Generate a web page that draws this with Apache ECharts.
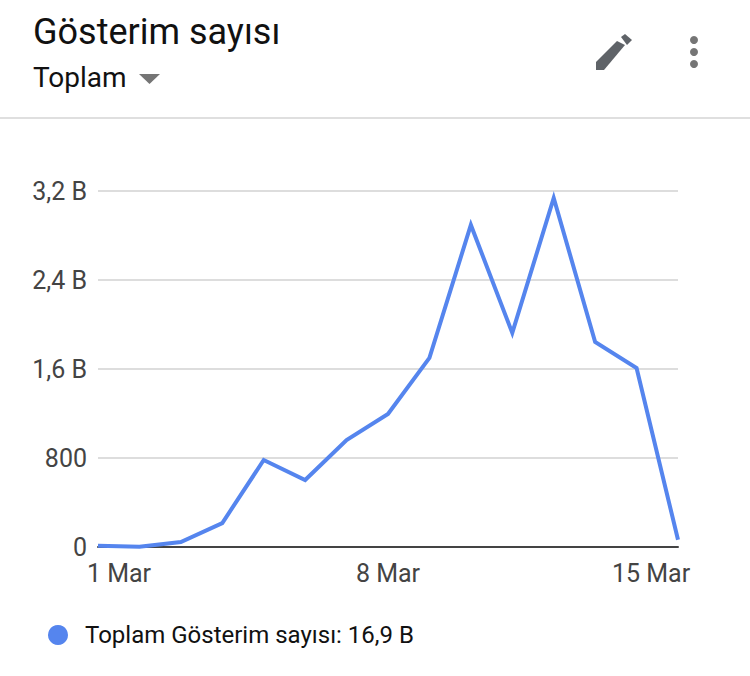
<!DOCTYPE html>
<html><head><meta charset="utf-8">
<style>html,body{margin:0;padding:0;background:#fff}#c{width:750px;height:676px}</style>
<script src="https://cdn.jsdelivr.net/npm/echarts@6/dist/echarts.min.js"></script>
</head><body><div id="c"></div>
<script>
const days=['1 Mar','2 Mar','3 Mar','4 Mar','5 Mar','6 Mar','7 Mar','8 Mar','9 Mar','10 Mar','11 Mar','12 Mar','13 Mar','14 Mar','15 Mar'];
const views=[12,3,45,215,782,602,962,1195,1700,2895,1924,3137,1843,1609,65];
const seriesName='Toplam Gösterim sayısı: 16,9 B';
const yTicks={0:'0',800:'800',1600:'1,6 B',2400:'2,4 B',3200:'3,2 B'};
const F='Roboto';
const chart=echarts.init(document.getElementById('c'),null,{renderer:'svg'});
chart.setOption({
  animation:false,
  textStyle:{fontFamily:F},
  title:[
    {text:'Gösterim sayısı',left:28,top:9,textStyle:{fontFamily:F,fontSize:36,fontWeight:400,color:'#111'}},
    {text:'Toplam',left:28,top:58,textStyle:{fontFamily:F,fontSize:28,fontWeight:400,color:'#111'}}
  ],
  grid:{left:98,right:72,top:191,height:356,containLabel:false},
  legend:{show:true,left:43,top:618,icon:'circle',itemWidth:20,itemHeight:20,itemGap:8,
    textStyle:{fontFamily:F,fontSize:24,color:'#111',padding:[0,0,0,12]},data:[seriesName]},
  xAxis:{type:'category',boundaryGap:false,data:days,
    axisLine:{show:true,onZero:true,lineStyle:{color:'#444',width:2}},axisTick:{show:false},splitLine:{show:false},
    axisLabel:{interval:6,margin:14,fontFamily:F,fontSize:25,color:'#444',
      formatter:v=>v==='1 Mar'?'{a|1 Mar}':v==='15 Mar'?'{b|15 Mar}':'{c|'+v+'}',
      rich:{a:{padding:[0,0,0,42],fontSize:25,color:'#444',fontFamily:F},
            b:{padding:[0,54,0,0],fontSize:25,color:'#444',fontFamily:F},
            c:{fontSize:25,color:'#444',fontFamily:F}}}},
  yAxis:{type:'value',min:0,max:3200,interval:800,
    axisLine:{show:false},axisTick:{show:false},
    splitLine:{show:true,lineStyle:{color:'#ddd',width:2}},
    axisLabel:{margin:11,fontFamily:F,fontSize:25,color:'#444',formatter:v=>yTicks[v]}},
  series:[{name:seriesName,type:'line',data:views,symbol:'none',smooth:false,
    itemStyle:{color:'#5585ee'},lineStyle:{color:'#5585ee',width:4,join:'miter'}}],
  graphic:[
    {type:'rect',shape:{x:0,y:117,width:750,height:2},style:{fill:'#dfdfdf'},silent:true},
    {type:'polygon',shape:{points:[[139,74],[160,74],[149.5,84]]},style:{fill:'#757575'},silent:true},
    {type:'polygon',shape:{points:[[596,62],[617,41],[625,45],[604,70],[596,70]]},style:{fill:'#5f6368'},silent:true},
    {type:'polygon',shape:{points:[[621,37],[625,34],[632,40],[627,45]]},style:{fill:'#5f6368'},silent:true},
    {type:'circle',shape:{cx:694,cy:40,r:4},style:{fill:'#757575'},silent:true},
    {type:'circle',shape:{cx:694,cy:52,r:4},style:{fill:'#757575'},silent:true},
    {type:'circle',shape:{cx:694,cy:64,r:4},style:{fill:'#757575'},silent:true}
  ]
});
</script></body></html>
